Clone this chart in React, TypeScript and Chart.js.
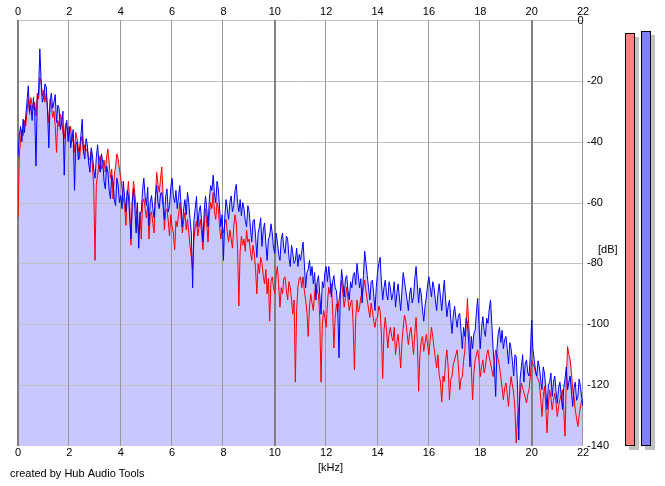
import { useEffect, useRef } from "react";
import { Chart, registerables } from "chart.js";

Chart.register(...registerables);

// Frequency bins [kHz]
const freqKHz = [
  0, 0.05, 0.1, 0.15, 0.2, 0.25, 0.3, 0.35, 0.4, 0.45, 0.5, 0.55, 0.6, 0.65, 0.7, 0.75, 0.8, 0.85, 0.9, 0.95,
  1, 1.05, 1.1, 1.15, 1.2, 1.25, 1.3, 1.35, 1.4, 1.45, 1.5, 1.55, 1.6, 1.65, 1.7, 1.75, 1.8, 1.85, 1.9, 1.95,
  2, 2.05, 2.1, 2.15, 2.2, 2.25, 2.3, 2.35, 2.4, 2.45, 2.5, 2.55, 2.6, 2.65, 2.7, 2.75, 2.8, 2.85, 2.9, 2.95,
  3, 3.05, 3.1, 3.15, 3.2, 3.25, 3.3, 3.35, 3.4, 3.45, 3.5, 3.55, 3.6, 3.65, 3.7, 3.75, 3.8, 3.85, 3.9, 3.95,
  4, 4.05, 4.1, 4.15, 4.2, 4.25, 4.3, 4.35, 4.4, 4.45, 4.5, 4.55, 4.6, 4.65, 4.7, 4.75, 4.8, 4.85, 4.9, 4.95,
  5, 5.05, 5.1, 5.15, 5.2, 5.25, 5.3, 5.35, 5.4, 5.45, 5.5, 5.55, 5.6, 5.65, 5.7, 5.75, 5.8, 5.85, 5.9, 5.95,
  6, 6.05, 6.1, 6.15, 6.2, 6.25, 6.3, 6.35, 6.4, 6.45, 6.5, 6.55, 6.6, 6.65, 6.7, 6.75, 6.8, 6.85, 6.9, 6.95,
  7, 7.05, 7.1, 7.15, 7.2, 7.25, 7.3, 7.35, 7.4, 7.45, 7.5, 7.55, 7.6, 7.65, 7.7, 7.75, 7.8, 7.85, 7.9, 7.95,
  8, 8.05, 8.1, 8.15, 8.2, 8.25, 8.3, 8.35, 8.4, 8.45, 8.5, 8.55, 8.6, 8.65, 8.7, 8.75, 8.8, 8.85, 8.9, 8.95,
  9, 9.05, 9.1, 9.15, 9.2, 9.25, 9.3, 9.35, 9.4, 9.45, 9.5, 9.55, 9.6, 9.65, 9.7, 9.75, 9.8, 9.85, 9.9, 9.95,
  10, 10.05, 10.1, 10.15, 10.2, 10.25, 10.3, 10.35, 10.4, 10.45, 10.5, 10.55, 10.6, 10.65, 10.7, 10.75, 10.8, 10.85, 10.9, 10.95,
  11, 11.05, 11.1, 11.15, 11.2, 11.25, 11.3, 11.35, 11.4, 11.45, 11.5, 11.55, 11.6, 11.65, 11.7, 11.75, 11.8, 11.85, 11.9, 11.95,
  12, 12.05, 12.1, 12.15, 12.2, 12.25, 12.3, 12.35, 12.4, 12.45, 12.5, 12.55, 12.6, 12.65, 12.7, 12.75, 12.8, 12.85, 12.9, 12.95,
  13, 13.05, 13.1, 13.15, 13.2, 13.25, 13.3, 13.35, 13.4, 13.45, 13.5, 13.55, 13.6, 13.65, 13.7, 13.75, 13.8, 13.85, 13.9, 13.95,
  14, 14.05, 14.1, 14.15, 14.2, 14.25, 14.3, 14.35, 14.4, 14.45, 14.5, 14.55, 14.6, 14.65, 14.7, 14.75, 14.8, 14.85, 14.9, 14.95,
  15, 15.05, 15.1, 15.15, 15.2, 15.25, 15.3, 15.35, 15.4, 15.45, 15.5, 15.55, 15.6, 15.65, 15.7, 15.75, 15.8, 15.85, 15.9, 15.95,
  16, 16.05, 16.1, 16.15, 16.2, 16.25, 16.3, 16.35, 16.4, 16.45, 16.5, 16.55, 16.6, 16.65, 16.7, 16.75, 16.8, 16.85, 16.9, 16.95,
  17, 17.05, 17.1, 17.15, 17.2, 17.25, 17.3, 17.35, 17.4, 17.45, 17.5, 17.55, 17.6, 17.65, 17.7, 17.75, 17.8, 17.85, 17.9, 17.95,
  18, 18.05, 18.1, 18.15, 18.2, 18.25, 18.3, 18.35, 18.4, 18.45, 18.5, 18.55, 18.6, 18.65, 18.7, 18.75, 18.8, 18.85, 18.9, 18.95,
  19, 19.05, 19.1, 19.15, 19.2, 19.25, 19.3, 19.35, 19.4, 19.45, 19.5, 19.55, 19.6, 19.65, 19.7, 19.75, 19.8, 19.85, 19.9, 19.95,
  20, 20.05, 20.1, 20.15, 20.2, 20.25, 20.3, 20.35, 20.4, 20.45, 20.5, 20.55, 20.6, 20.65, 20.7, 20.75, 20.8, 20.85, 20.9, 20.95,
  21, 21.05, 21.1, 21.15, 21.2, 21.25, 21.3, 21.35, 21.4, 21.45, 21.5, 21.55, 21.6, 21.65, 21.7, 21.75, 21.8, 21.85, 21.9, 21.95,
  22,
];

// Left channel (red) [dB]
const leftDb = [
  -65, -45, -39, -36, -38, -33, -34.8, -30, -26, -31, -25.5, -28, -29.3, -27, -31.5, -24, -26, -19, -20.5, -25,
  -23, -27, -24, -29, -33.7, -26, -28, -32, -30, -35, -43.5, -33, -35, -31, -32.6, -37, -39, -34, -35, -38,
  -37, -35, -40, -38, -43.5, -37, -39, -42, -45.7, -40, -38, -44, -41, -43, -42.4, -46, -45.7, -43, -48, -55,
  -79, -54, -51, -47, -44.6, -49, -48, -46, -50, -45, -42.4, -47, -52, -49, -58.8, -51, -48, -44, -45.7, -49,
  -52, -55, -58.8, -61, -67.5, -58, -53, -60, -74, -59, -53, -57, -62, -66, -70, -63, -72, -60, -58.8, -62,
  -65, -61, -72, -64, -63, -67, -70, -58, -50, -54, -56.6, -52, -48.3, -58, -69, -63, -62, -66, -71, -64,
  -68, -70, -75.5, -66, -68, -64, -60, -65, -70, -66, -63.3, -69, -65.5, -70, -74.4, -78, -82, -72, -68, -66,
  -71, -68, -65.5, -70, -75.5, -68, -62, -67, -73, -64, -60, -62, -56.7, -63, -65.5, -60, -62, -68, -72, -68,
  -70, -67, -65.5, -70, -73, -69, -72, -75, -68, -64, -66.7, -75, -94, -76, -71, -74, -72, -76, -69, -73,
  -72, -76, -79, -74, -76.7, -82, -90, -80, -83.3, -78, -80, -84, -86.7, -82, -90, -85, -99, -86, -84.4, -88,
  -90, -84, -81, -87, -94.4, -88, -90, -85, -84.4, -89, -92, -86, -87.8, -92, -96.7, -92, -119, -95, -87.8, -85,
  -84.4, -88, -84.4, -89, -92, -96, -104, -94, -90, -93, -95.5, -90, -86.7, -89, -90, -98, -119, -100, -95.5, -98,
  -101, -93, -87.8, -90, -86.7, -95, -107.8, -98, -93.3, -96, -92, -89, -85.5, -90, -94.4, -91, -87.8, -92, -95.5, -93,
  -92, -100, -115, -98, -92, -96, -94.4, -91, -90, -88, -85.5, -89, -92, -95, -97.8, -93, -95.5, -99, -101, -98,
  -97.8, -94, -95.5, -103, -117.8, -102, -97.8, -102, -107.8, -103, -101, -104, -105.5, -101, -110, -106, -103.3, -108, -114.4, -106,
  -101, -97, -98.9, -103, -106.7, -103, -101, -105, -110, -103, -97.8, -106, -122, -110, -105.5, -104, -108.9, -106, -103.3, -107,
  -110, -105, -101, -104, -107.8, -111, -114.4, -110, -116.7, -119, -125.5, -117, -118.9, -112, -108.4, -114, -124.8, -118, -117.2, -113,
  -111.7, -110, -108.4, -114, -121.5, -118, -117.2, -112, -108.4, -100, -91.5, -100, -106.2, -114, -124.8, -116, -111.7, -110, -108.4, -112,
  -117.2, -114, -111.7, -116, -113.9, -110, -108.4, -111, -112.8, -115, -117.2, -112, -108.4, -110, -111.7, -114, -117.2, -121, -124.8, -121,
  -119.3, -123, -127, -121, -117.2, -120, -122.6, -128, -139, -131, -128.1, -123, -119.3, -121, -122.6, -124, -125.9, -123, -121.5, -117,
  -111.7, -113, -113.9, -116, -117.2, -118, -119.3, -124, -130.3, -124, -120.4, -127, -135.7, -127, -121.5, -124, -128.1, -125, -122.6, -126,
  -130.3, -127, -124.8, -123, -121.5, -128, -136.8, -118, -107.3, -110, -111.7, -116, -121.5, -124, -128.1, -131, -133.6, -130, -127, -125,
  -124.8,
];

// Right channel (blue) [dB]
const rightDb = [
  -45, -38, -35, -40, -32.6, -37, -31.5, -27, -21.6, -30, -28, -33, -25.5, -30, -48, -26, -24, -9.5, -20, -27,
  -25.5, -21, -22, -30, -42, -27, -24, -29, -27, -24.5, -33.7, -28, -29, -36, -33.7, -30, -51, -36, -33, -40,
  -35, -42, -39, -36, -56, -41, -40, -46, -42, -38, -32.6, -43, -45.7, -39, -41, -47, -50, -42, -44.6, -49,
  -52, -45, -41, -47, -50, -44, -46.8, -53, -55.5, -48, -50, -56, -58.8, -51, -53, -59, -61, -52, -54.4, -60,
  -57.7, -62, -53, -58, -63, -56, -57.7, -65, -72, -60, -55.5, -62, -70, -60, -75, -64, -63, -56, -52, -58,
  -61, -55, -67.5, -60, -57.7, -62, -65, -58, -54.4, -60, -62, -57, -56.7, -61, -65.5, -58, -55.5, -63, -61, -55,
  -52, -58, -60, -56, -62, -58, -54.4, -61, -68, -62, -59, -64, -56.7, -60, -65.5, -70, -88, -66, -62, -58,
  -68, -63, -61, -66, -73, -63, -57.8, -62, -68, -59, -54.4, -56, -51, -57, -60, -53, -55.5, -62, -68, -64,
  -79, -65, -59, -62, -65.5, -60, -57.8, -63, -61, -56, -54, -60, -63, -59, -64.4, -60, -62, -66, -68, -61,
  -63, -68, -73, -66, -65.5, -71, -78, -70, -68, -65, -74.4, -69, -66.7, -73, -79, -72, -71, -67, -70, -75,
  -76.7, -70, -73, -77, -79, -72, -70, -75, -76.7, -71, -72, -78, -81, -74, -76.7, -80, -79, -75, -81, -77,
  -79, -76, -73, -80, -88, -83, -82, -79, -84, -81, -86.7, -83, -92, -86, -84, -90, -96.7, -86, -88, -83,
  -81, -86, -81, -85, -91, -86, -84, -88, -89, -95, -111, -90, -82, -86, -91, -85, -84, -89, -92, -86,
  -88, -84, -83, -87, -80, -84, -88, -85, -93, -84, -76, -80, -84, -88, -92, -86, -85.5, -90, -95.5, -88,
  -83, -80, -78, -86, -92, -88, -85.5, -90, -92, -86, -88, -92, -90, -86, -94.4, -90, -86.7, -91, -95.5, -89,
  -83, -86, -89, -92, -95.5, -90, -88, -93, -91, -85, -81, -87, -93, -88, -90, -95, -99, -94, -91, -87,
  -84.4, -88, -91, -86, -88, -92, -95.5, -90, -86.7, -91, -95.5, -90, -85.5, -92, -97.5, -94, -92, -98, -103, -97,
  -94, -98, -101, -97, -96.4, -102, -108, -101, -104, -98, -99.7, -106, -114, -104, -108, -103, -102, -96, -91.5, -100,
  -108, -101, -97.5, -102, -104, -98, -99.7, -95, -92, -100, -108, -114, -123.7, -108, -103, -101, -106, -102, -108, -105,
  -104, -108, -113, -106, -108, -112, -117, -110, -110.6, -120, -138, -118, -114, -110, -119, -113, -111.7, -116, -117, -110,
  -98.6, -108, -111.7, -115, -117, -112, -114, -118, -121.5, -114, -116, -121, -128, -120, -119, -116, -123.7, -119, -117, -122,
  -126, -121, -119, -123, -128, -121, -118, -114, -121.5, -119, -117, -122, -127, -121, -119, -125, -123.7, -118, -120.4, -124,
  -127,
];

// Peak level meters [dB]: left, right
const meterLevelsDb = [-4.3, -3.6];

const FONT = '"Liberation Sans", Arial, Helvetica, sans-serif';
const RED_LINE_INDEX = 2;

const overlayPlugin = {
  id: "spectrumOverlay",
  beforeDatasetDraw(chart: any, args: any) {
    if (args.index !== RED_LINE_INDEX) return;
    const { ctx, chartArea: a } = chart;
    const x = chart.scales.x;
    const y = chart.scales.y;
    ctx.save();
    ctx.lineWidth = 1;
    ctx.strokeStyle = "#c0c0c0";
    for (const t of y.ticks) {
      if (t.value <= -140) continue;
      const py = Math.round(y.getPixelForValue(t.value)) + 0.5;
      ctx.beginPath();
      ctx.moveTo(a.left, py);
      ctx.lineTo(a.right, py);
      ctx.stroke();
    }
    for (const t of x.ticks) {
      const major = t.value % 10 === 0;
      const px = x.getPixelForValue(t.value);
      ctx.lineWidth = major ? 2 : 1;
      ctx.strokeStyle = major ? "#808080" : "#989898";
      const xx = major ? Math.round(px) : Math.round(px) - 0.5;
      ctx.beginPath();
      ctx.moveTo(xx, a.top);
      ctx.lineTo(xx, a.bottom);
      ctx.stroke();
    }
    ctx.restore();
  },
  afterDraw(chart: any) {
    const { ctx, chartArea: a } = chart;
    const y = chart.scales.y;
    ctx.save();
    // level meters
    const bottom = Math.round(y.getPixelForValue(-140));
    const colors = ["#ff8080", "#8080ff"];
    meterLevelsDb.forEach((v, i) => {
      const top = Math.round(y.getPixelForValue(v));
      const left = Math.round(a.right) + 42 + i * 16;
      const w = 10;
      ctx.fillStyle = "#c0c0c0";
      ctx.fillRect(left + 4, top + 4, w, bottom - top);
      ctx.fillStyle = colors[i];
      ctx.fillRect(left, top, w, bottom - top);
      ctx.strokeStyle = "#000";
      ctx.lineWidth = 1;
      ctx.strokeRect(left + 0.5, top + 0.5, w - 1, bottom - top - 1);
    });
    // texts
    ctx.font = `11px ${FONT}`;
    ctx.fillStyle = "#000";
    ctx.textBaseline = "middle";
    ctx.textAlign = "center";
    ctx.fillText("0", a.right - 2.5, a.top + 1);
    ctx.textAlign = "left";
    ctx.fillText("[dB]", a.right + 15, y.getPixelForValue(-75.5));
    ctx.fillText("[kHz]", 318, a.bottom + 22);
    ctx.fillText("created by Hub Audio Tools", 10, a.bottom + 28);
    ctx.restore();
  },
};

export default function App() {
  const ref = useRef<HTMLCanvasElement | null>(null);

  useEffect(() => {
    if (!ref.current) return;
    const pts = (vals: number[]) => freqKHz.map((f, i) => ({ x: f, y: vals[i] }));
    const tickFont = { family: FONT, size: 11 };
    const chart = new Chart(ref.current, {
      type: "line",
      data: {
        datasets: [
          {
            data: pts(leftDb),
            borderWidth: 0,
            borderColor: "rgba(0,0,0,0)",
            backgroundColor: "#c8c8ff",
            fill: "start",
            pointRadius: 0,
            order: 3,
          },
          {
            data: pts(rightDb),
            borderWidth: 0,
            borderColor: "rgba(0,0,0,0)",
            backgroundColor: "#c8c8ff",
            fill: "start",
            pointRadius: 0,
            order: 2,
          },
          {
            data: pts(leftDb),
            borderWidth: 1,
            borderColor: "#ff0000",
            fill: false,
            pointRadius: 0,
            order: 1,
          },
          {
            data: pts(rightDb),
            borderWidth: 1,
            borderColor: "#0000ff",
            fill: false,
            pointRadius: 0,
            order: 0,
          },
        ],
      },
      options: {
        animation: false,
        responsive: false,
        events: [],
        layout: { padding: { left: 18, right: 0, top: 0, bottom: 0 } },
        plugins: {
          legend: { display: false },
          tooltip: { enabled: false },
          title: { display: false },
        },
        elements: { line: { tension: 0 } },
        scales: {
          x: {
            type: "linear",
            position: "bottom",
            min: 0,
            max: 22,
            ticks: { stepSize: 2, padding: 0, maxRotation: 0, autoSkip: false, color: "#000", font: tickFont },
            grid: { display: false, drawTicks: false },
            border: { display: false },
            afterFit: (s: any) => {
              s.height = 40;
            },
          },
          x2: {
            type: "linear",
            position: "top",
            min: 0,
            max: 22,
            ticks: { stepSize: 2, padding: 1, maxRotation: 0, autoSkip: false, color: "#000", font: tickFont },
            grid: { display: false, drawTicks: false },
            border: { display: false },
            afterFit: (s: any) => {
              s.height = 20;
            },
          },
          y: {
            type: "linear",
            position: "right",
            min: -140,
            max: 0,
            ticks: {
              stepSize: 20,
              padding: 4,
              color: "#000",
              font: tickFont,
              callback: (v: any) => (v === 0 ? "" : String(v)),
            },
            grid: { display: false, drawTicks: false },
            border: { display: false },
            afterFit: (s: any) => {
              s.width = 82;
            },
          },
        },
      },
      plugins: [overlayPlugin],
    });
    return () => chart.destroy();
  }, []);

  return (
    <div style={{ position: "fixed", left: 0, top: 0, width: 665, height: 486, background: "#fff" }}>
      <canvas ref={ref} width={665} height={486} style={{ display: "block" }} />
    </div>
  );
}
